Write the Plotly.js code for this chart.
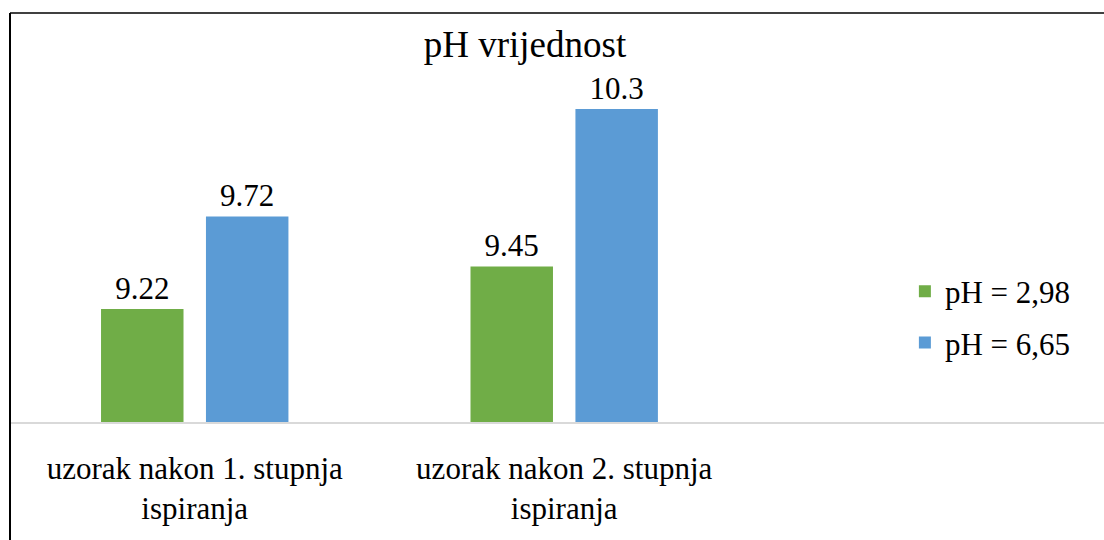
<!DOCTYPE html>
<html>
<head>
<meta charset="utf-8">
<script src="https://cdn.plot.ly/plotly-3.0.1.min.js"></script>
<style>html,body{margin:0;padding:0;background:#fff;} #chart{width:1104px;height:540px;}</style>
</head>
<body>
<div id="chart"></div>
<script>
var categories = ["uzorak nakon 1. stupnja<br>ispiranja", "uzorak nakon 2. stupnja<br>ispiranja"];
var seriesNames = ["pH = 2,98", "pH = 6,65"];
var valuesA = [9.22, 9.45];
var valuesB = [9.72, 10.3];
var colors = ["#70ad47", "#5b9bd5"];

var FONT = "Liberation Serif";

function mk(name, vals, color, grp) {
  return {
    type: "bar",
    name: name,
    x: categories,
    y: vals,
    marker: {color: color},
    text: vals.map(String),
    textposition: "outside",
    constraintext: "none",
    cliponaxis: false,
    textfont: {family: FONT, size: 31, color: "#000"},
    legendgroup: grp,
    hoverinfo: "skip"
  };
}

var data = [mk(seriesNames[0], valuesA, colors[0], "a"), mk(seriesNames[1], valuesB, colors[1], "b")];

var layout = {
  width: 1104,
  height: 540,
  margin: {l: 10, r: 0, t: 50, b: 118},
  paper_bgcolor: "#fff",
  plot_bgcolor: "#fff",
  font: {family: FONT, size: 31, color: "#000"},
  title: {
    text: "pH vrijednost",
    font: {family: FONT, size: 37, color: "#000"},
    xref: "container", yref: "container",
    x: 0.4755, xanchor: "center",
    y: 1 - 44 / 540, yanchor: "middle"
  },
  barmode: "group",
  bargap: 0.432,
  bargroupgap: 0.214,
  xaxis: {
    type: "category",
    range: [-0.5, 2.461],
    showline: true,
    linecolor: "#d9d9d9",
    linewidth: 1.5,
    showgrid: false,
    zeroline: false,
    ticks: "",
    ticklabelstandoff: 18,
    tickfont: {family: FONT, size: 31, color: "#000"}
  },
  yaxis: {
    range: [8.61, 10.619],
    visible: false,
    showgrid: false,
    zeroline: false
  },
  showlegend: true,
  legend: {
    x: 0.818, xanchor: "left",
    y: 0.282, yanchor: "middle",
    traceorder: "grouped",
    tracegroupgap: 8,
    font: {family: FONT, size: 31, color: "#000"},
    bgcolor: "rgba(0,0,0,0)"
  },
  shapes: [
    {type: "line", xref: "paper", yref: "paper", x0: 0, x1: 0, y0: 1.0995, y1: -0.32, line: {color: "#000", width: 2}, layer: "above"},
    {type: "line", xref: "paper", yref: "paper", x0: 0, x1: 1.01, y0: 1.0995, y1: 1.0995, line: {color: "#000", width: 1.5}, layer: "above"}
  ]
};

Plotly.newPlot("chart", data, layout, {displayModeBar: false, staticPlot: true});
</script>
</body>
</html>
